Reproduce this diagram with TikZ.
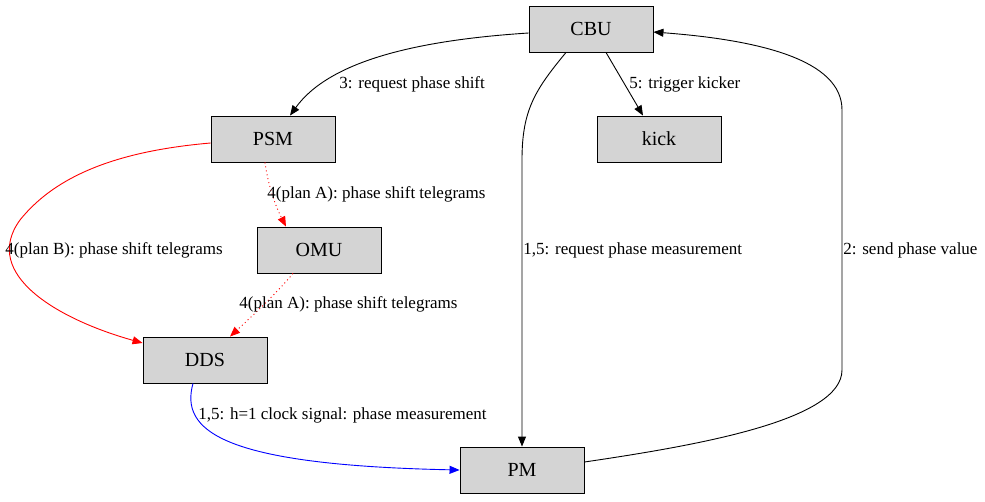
\documentclass[tikz,border=0pt]{standalone}
\usepackage{fontspec}
\setmainfont{Liberation Serif}
\usetikzlibrary{arrows.meta}
\tikzset{
  box/.style={draw, fill=black!17, minimum width=124pt, minimum height=46pt, inner sep=0pt, font=\fontsize{20}{22}\selectfont},
  edge/.style={line width=0.9pt, -{Triangle[length=10pt,width=8pt]}},
  dots/.style={dash pattern=on 1pt off 3pt},
  lbl/.style={font=\fontsize{17}{19}\selectfont, anchor=west, inner sep=1pt}
}
\begin{document}
\begin{tikzpicture}[x=1pt,y=-1pt, line width=0.9pt]
        \useasboundingbox (0,0) rectangle (985,501);
        \node[box] (cbu) at (591,29) {CBU};
        \node[box] (psm) at (273,139) {PSM};
        \node[box] (kick) at (659,139) {kick};
        \node[box] (omu) at (319,250) {OMU};
        \node[box] (dds) at (205,360) {DDS};
        \node[box] (pm) at (522,470) {PM};
        \draw[edge] (cbu.west |- 0,33) .. controls (420,40) and (330,60) .. (psm.north -| 290,0);
        \node[lbl] at (338,84) {3: request phase shift};
        \draw[edge] (cbu.south -| 606,0) -- (kick.north -| 643,0);
        \node[lbl] at (628,84) {5: trigger kicker};
        \draw[edge] (cbu.south -| 566,0) .. controls (535,90) and (522,110) .. (522,160) -- (pm.north);
        \node[lbl] at (522,250) {1,5: request phase measurement};
        \draw[edge] (pm.east |- 0,462) .. controls (700,445) and (842,420) .. (842,370) -- (842,110) .. controls (842,60) and (760,40) .. (cbu.east |- 0,32);
        \node[lbl] at (842,250) {2: send phase value};
        \draw[edge, red] (psm.west |- 0,143) .. controls (130,150) and (60,170) .. (20,220) .. controls (-20,275) and (60,320) .. (dds.west |- 0,343);
        \node[lbl] at (4,250) {4(plan B): phase shift telegrams};
        \draw[edge, red, dots] (psm.south -| 265,0) .. controls (268,185) and (275,205) .. (omu.north -| 286,0);
        \node[lbl] at (266,194) {4(plan A): phase shift telegrams};
        \draw[edge, red, dots] (omu.south -| 293,0) .. controls (275,295) and (250,318) .. (dds.north -| 230,0);
        \node[lbl] at (238,304) {4(plan A): phase shift telegrams};
        \draw[edge, blue] (dds.south -| 193,0) .. controls (180,430) and (220,465) .. (pm.west);
        \node[lbl] at (197,415) {1,5: h=1 clock signal: phase measurement};
    \end{tikzpicture}
\end{document}
